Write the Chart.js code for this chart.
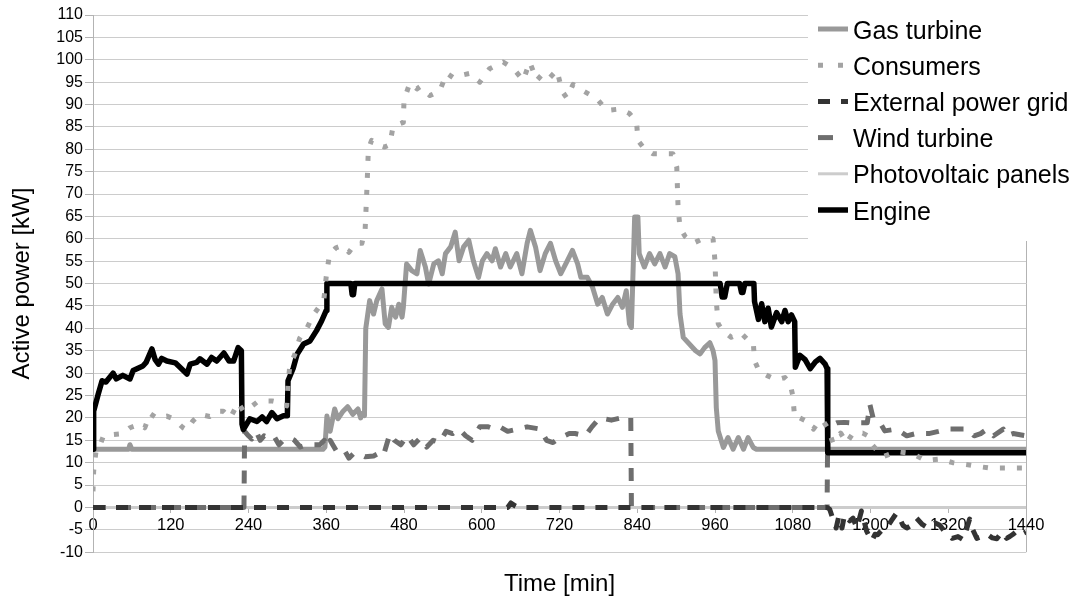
<!DOCTYPE html>
<html>
<head>
<meta charset="utf-8">
<script src="https://cdn.jsdelivr.net/npm/chart.js@4.4.1/dist/chart.umd.min.js"></script>
<style>
  body { margin: 0; background: #fff; }
  #wrap { width: 1072px; height: 603px; }
</style>
</head>
<body>
<div id="wrap"><canvas id="myChart"></canvas></div>
<script>
// series names, in legend order
const seriesNames = ['Gas turbine', 'Consumers', 'External power grid', 'Wind turbine', 'Photovoltaic panels', 'Engine'];

// time [min] / active power [kW]
const gasTime = [
  0, 55, 57, 60, 355, 358, 361, 366, 373, 378,
  386, 393, 401, 409, 413, 416, 419, 421, 427, 433,
  438, 446, 451, 456, 461, 467, 472, 477, 479, 484,
  492, 500, 505, 513, 518, 526, 533, 539, 544, 552,
  559, 565, 572, 580, 587, 595, 601, 608, 616, 621,
  629, 637, 644, 654, 662, 670, 675, 683, 690, 698,
  706, 714, 722, 732, 740, 748, 753, 763, 771, 779,
  786, 794, 802, 810, 817, 823, 828, 831, 836, 841,
  843, 851, 859, 867, 875, 883, 890, 898, 903, 906,
  911, 930, 937, 944, 952, 957, 960, 962, 965, 973,
  980, 988, 996, 1004, 1011, 1019, 1024, 1440
];
const gasKW = [
  13, 13, 14, 13, 13, 13.5, 20.4, 17, 22, 19.8,
  21.5, 22.5, 20.8, 22, 20, 21, 20.5, 40, 46.2, 43.2,
  46.2, 48.8, 41, 40.2, 44.7, 42.5, 45.4, 42.5, 44.7, 54.4,
  52.9, 52.2, 57.4, 53.7, 49.9, 54.4, 55.1, 52.2, 56.7, 58.2,
  61.5, 55.1, 58.2, 59.7, 55.1, 51.4, 55.1, 56.7, 55.1, 57.8,
  53.7, 56.7, 53.7, 56.7, 52.2, 59, 61.9, 58.2, 52.9, 56.7,
  59, 55.1, 52.2, 55.1, 57.4, 54.4, 51.4, 51.4, 49.2, 45.4,
  46.9, 43.2, 45.4, 46.9, 44.7, 48.4, 41, 40.2, 64.9, 64.9,
  56.7, 53.7, 56.7, 54.4, 56.7, 53.7, 56.7, 56, 52.2, 43.2,
  38, 35, 34.3, 35.7, 36.8, 35, 32.8, 22.3, 17.1, 13.4,
  15.6, 13, 15.6, 13, 15.6, 13.4, 13, 13
];

const consTime = [
  0, 1, 5, 11, 16, 31, 46, 57, 73, 80,
  88, 98, 114, 124, 139, 145, 154, 165, 180, 191,
  201, 212, 224, 232, 242, 253, 265, 276, 289, 299,
  301, 304, 311, 319, 330, 340, 350, 356, 360, 365,
  375, 385, 395, 405, 415, 420, 423, 425, 430, 440,
  450, 458, 463, 470, 479, 480, 489, 500, 505, 520,
  535, 546, 556, 567, 583, 597, 612, 633, 649, 664,
  674, 685, 695, 705, 716, 724, 731, 741, 757, 777,
  793, 813, 828, 839, 841, 849, 864, 880, 895, 901,
  902, 903, 906, 914, 926, 941, 951, 957, 960, 961,
  962, 965, 972, 985, 1000, 1010, 1019, 1021, 1028, 1040,
  1055, 1068, 1076, 1080, 1083, 1091, 1105, 1112, 1122, 1127,
  1135, 1142, 1154, 1163, 1173, 1188, 1196, 1200, 1219, 1240,
  1265, 1285, 1307, 1327, 1348, 1364, 1384, 1415, 1440
];
const consKW = [
  3.6, 8.1, 13, 14, 15.9, 16.3, 16.5, 17.8, 18.6, 17.8,
  21, 20, 20.4, 19.8, 17.8, 17.3, 19.3, 20.8, 20.3, 21.5,
  21.5, 20, 23.4, 21.5, 22.3, 23.5, 23.8, 23.8, 23.4, 22.7,
  27.6, 32, 34, 37.8, 40, 43, 45, 46, 51.6, 56.5,
  58, 58.5, 57, 59, 59, 62, 72, 80, 82, 81,
  80.5, 81, 85, 85.5, 86, 91, 94.8, 93.5, 94, 92,
  93, 97, 96, 96.5, 97, 95, 98, 99.5, 98, 95.4,
  99.5, 95.4, 97, 96, 97.7, 93, 91.5, 94.5, 93, 91.4,
  88.7, 89, 88, 86, 82, 80.5, 79, 79, 79, 76,
  71.5, 67, 62.5, 60.5, 59, 60, 60, 60, 55, 50.5,
  46, 41, 39.5, 38, 39, 37.5, 37, 32.8, 30.5, 29.5,
  28.5, 29, 27.6, 25, 20, 20, 19, 17.5, 19.5, 19.3,
  17.5, 14.4, 16.6, 14.4, 16.6, 16.6, 16, 14.4, 11.3, 12.5,
  12, 10.5, 10.8, 10, 9.6, 9.2, 8.8, 8.8, 8.8
];

const gridTime = [
  0, 640, 645, 652, 656, 1133, 1137, 1142, 1147, 1151,
  1156, 1160, 1168, 1173, 1179, 1186, 1190, 1194, 1202, 1207,
  1211, 1218, 1225, 1232, 1240, 1245, 1250, 1256, 1263, 1271,
  1280, 1289, 1300, 1307, 1315, 1326, 1335, 1343, 1348, 1353,
  1358, 1364, 1372, 1380, 1388, 1395, 1403, 1410, 1415, 1420,
  1428, 1436, 1440
];
const gridKW = [
  0, 0, 1, 0.3, 0, 0, -0.4, -2.6, -4.6, -2,
  -4.6, -1.6, -3, -2.4, -4.6, -0.8, -3, -5.3, -7.5, -6,
  -6.1, -5, -4.6, -3, -1.3, -2.4, -4, -4.6, -4, -2.4,
  -3.8, -4.6, -3.5, -4, -5.5, -6.9, -6.5, -7.2, -5, -2.6,
  -5, -6.9, -6.5, -6, -6.8, -7, -5.5, -6.9, -6.5, -6,
  -5, -5.8, -5.5
];

const windTime = [
  0, 233, 234, 240, 245, 252, 258, 264, 272, 279,
  287, 295, 304, 311, 320, 330, 340, 350, 357, 362,
  366, 370, 378, 389, 395, 402, 410, 420, 433, 440,
  448, 458, 465, 475, 485, 495, 505, 515, 525, 535,
  545, 555, 565, 575, 585, 597, 610, 620, 628, 640,
  655, 670, 690, 700, 710, 720, 735, 744, 760, 770,
  782, 800, 815, 830, 831, 1133, 1134, 1148, 1160, 1168,
  1180, 1195, 1199, 1204, 1215, 1222, 1240, 1256, 1270, 1290,
  1305, 1318, 1333, 1350, 1360, 1370, 1380, 1390, 1405, 1410,
  1420, 1440
];
const windKW = [
  0, 0, 17, 16, 15.3, 17, 15, 16, 15.5, 16,
  14, 15.2, 15.5, 15, 13.5, 14, 14, 14, 15, 13.5,
  15, 14, 12, 12.5, 11, 12, 12, 11.3, 11.5, 12,
  11.5, 16.4, 15, 14, 16, 14, 15.5, 13.5, 15, 14.5,
  17, 16.5, 17.5, 16, 15, 18, 18, 17.5, 18, 17,
  17.5, 18, 17.5, 15, 14.5, 15.5, 16.5, 16.5, 16, 18,
  20, 19.5, 20, 20, 0, 0, 18, 18.9, 19, 18.9,
  18.9, 18.9, 23, 20, 18.9, 17.1, 17.5, 16, 16.5, 16.5,
  17, 17.5, 17.5, 17.5, 16, 16.5, 17.5, 16, 17.5, 16,
  16.5, 16
];

const pvTime = [0, 1440];
const pvKW = [0, 0];

const engineTime = [
  0, 1, 8, 14, 20, 31, 36, 46, 57, 62,
  77, 82, 91, 96, 101, 106, 114, 127, 135, 145,
  150, 160, 165, 176, 183, 191, 202, 210, 217, 224,
  229, 230, 232, 242, 253, 261, 268, 276, 284, 294,
  300, 301, 309, 315, 325, 335, 345, 353, 360, 361,
  398, 400, 402, 404, 968, 971, 975, 979, 998, 1001,
  1003, 1006, 1020, 1021, 1027, 1032, 1037, 1042, 1047, 1055,
  1063, 1068, 1073, 1078, 1083, 1084, 1091, 1099, 1107, 1115,
  1122, 1130, 1133, 1134, 1440
];
const engineKW = [
  13, 21.5, 25.3, 28.3, 28, 30, 28.7, 29.5, 28.7, 30.6,
  31.6, 32.4, 35.4, 33, 32, 33.3, 32.7, 32.3, 31.2, 29.8,
  32, 32.4, 33.2, 32, 33.5, 32.7, 34.5, 32.7, 32.7, 35.7,
  35, 18.6, 17.4, 19.8, 19.2, 20.2, 19.2, 21.2, 19.8, 20.5,
  20.5, 28.3, 31.1, 34.2, 36.5, 37.2, 39.5, 41.7, 44, 50,
  50, 47.5, 47.5, 50, 50, 47, 47, 50, 50, 48,
  48, 50, 50, 46, 42, 45.5, 41.5, 44.5, 40.3, 43.5,
  41.5, 44, 41.5, 43, 41.5, 31.3, 34, 33, 31, 32.5,
  33.3, 32, 31, 12.2, 12.2
];

const FONT = '"Liberation Sans", Arial, sans-serif';
Chart.defaults.font.family = FONT;
Chart.defaults.color = '#000';

const toPoints = (t, v) => t.map((x, i) => ({ x: x, y: v[i] }));

// legend drawn over the top right of the plot, on white
const legendBox = {
  id: 'legendBox',
  afterDraw(chart) {
    const ctx = chart.ctx;
    const x0 = chart.width - 264;
    ctx.save();
    ctx.fillStyle = '#fff';
    ctx.fillRect(x0, 0, 264, 241);
    ctx.font = '25px ' + FONT;
    ctx.textBaseline = 'alphabetic';
    seriesNames.forEach((name, i) => {
      const ds = chart.data.datasets[i];
      const y = 29 + i * 36.2;
      ctx.beginPath();
      ctx.strokeStyle = ds.borderColor;
      ctx.lineWidth = ds.borderWidth;
      ctx.lineCap = 'butt';
      ctx.setLineDash(ds.legendDash || ds.borderDash || []);
      ctx.moveTo(x0 + 10, y);
      ctx.lineTo(x0 + 40, y);
      ctx.stroke();
      ctx.setLineDash([]);
      ctx.fillStyle = '#000';
      ctx.fillText(name, x0 + 45, y + 9.5);
    });
    ctx.restore();
  }
};

const common = { pointRadius: 0, fill: false, tension: 0, borderCapStyle: 'butt', borderJoinStyle: 'round' };

new Chart(document.getElementById('myChart'), {
  type: 'line',
  data: {
    datasets: [
      { ...common, label: seriesNames[0], data: toPoints(gasTime, gasKW), borderColor: '#999999', borderWidth: 5, order: 4 },
      { ...common, label: seriesNames[1], data: toPoints(consTime, consKW), borderColor: '#a3a3a3', borderWidth: 5, borderDash: [5, 12], legendDash: [5, 15], order: 0 },
      { ...common, label: seriesNames[2], data: toPoints(gridTime, gridKW), borderColor: '#333333', borderWidth: 5, borderDash: [12, 11], order: 2 },
      { ...common, label: seriesNames[3], data: toPoints(windTime, windKW), borderColor: '#6e6e6e', borderWidth: 5, borderDash: [13, 12], legendDash: [15, 20], order: 3 },
      { ...common, label: seriesNames[4], data: toPoints(pvTime, pvKW), borderColor: '#cccccc', borderWidth: 3, order: 5 },
      { ...common, label: seriesNames[5], data: toPoints(engineTime, engineKW), borderColor: '#000000', borderWidth: 5.5, order: 1 }
    ]
  },
  options: {
    responsive: true,
    maintainAspectRatio: false,
    animation: false,
    layout: { padding: { top: 15, right: 46, left: 0, bottom: 0 } },
    plugins: {
      legend: { display: false },
      tooltip: { enabled: false },
      title: {
        display: true,
        position: 'bottom',
        fullSize: false,
        text: 'Time [min]',
        color: '#000',
        font: { size: 24, weight: 'normal' },
        padding: { top: 18, bottom: 4 }
      }
    },
    scales: {
      x: {
        type: 'linear',
        min: 0,
        max: 1440,
        position: { y: 0 },
        ticks: { stepSize: 120, autoSkip: false, maxRotation: 0, padding: 3, color: '#000', font: { size: 16.5 }, callback: (v) => String(v) },
        grid: {
          drawOnChartArea: true,
          color: (c) => (c.tick && c.tick.value === 1440 ? '#b3b3b3' : 'rgba(0,0,0,0)'),
          tickColor: '#b3b3b3',
          tickLength: 5
        },
        border: { display: true, color: '#b3b3b3' },
        afterFit: (s) => { s.height = 13; }
      },
      y: {
        min: -10,
        max: 110,
        ticks: { stepSize: 5, autoSkip: false, padding: 2, color: '#000', font: { size: 16 } },
        grid: { color: '#cccccc', tickColor: '#b3b3b3', tickLength: 8 },
        border: { color: '#b3b3b3' },
        title: {
          display: true,
          text: 'Active power [kW]',
          color: '#000',
          font: { size: 24 },
          padding: { top: 8, bottom: 0 }
        },
        afterFit: (s) => { s.width = 93; }
      }
    }
  },
  plugins: [legendBox]
});
</script>
</body>
</html>
